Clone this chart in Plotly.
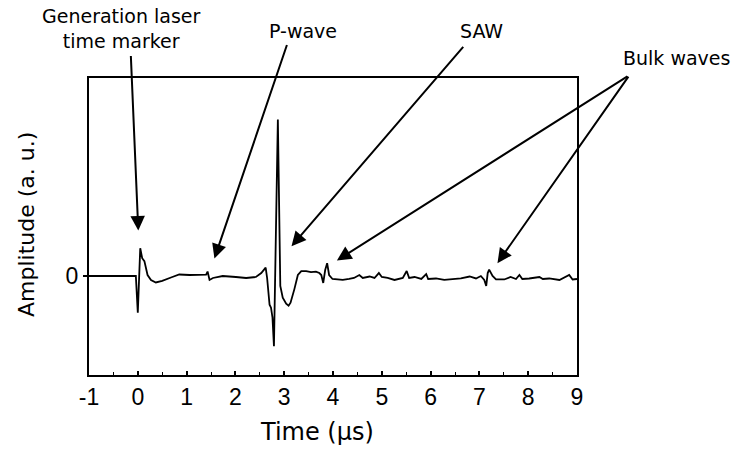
import plotly.graph_objects as go

# Photoacoustic trace: time in microseconds, amplitude in arbitrary units
time_us = [-1.0, -0.6, -0.3, -0.04, 0.0, 0.02, 0.05, 0.09, 0.135, 0.2, 0.27, 0.37, 0.5,
           0.68, 0.85, 1.06, 1.25, 1.4, 1.43, 1.47, 1.54, 1.74, 2.01, 2.22, 2.42, 2.53,
           2.62, 2.65, 2.70, 2.73, 2.76, 2.79, 2.87, 2.90, 2.92, 2.97, 3.04, 3.09, 3.13,
           3.21, 3.28, 3.35, 3.45, 3.55, 3.65, 3.72, 3.76, 3.80, 3.84, 3.88, 3.92, 3.99,
           4.13, 4.2, 4.33, 4.43, 4.54, 4.61, 4.75, 4.85, 4.94, 5.0, 5.12, 5.26, 5.43,
           5.51, 5.56, 5.67, 5.81, 5.91, 5.95, 6.11, 6.28, 6.45, 6.62, 6.80, 6.93, 7.03,
           7.10, 7.14, 7.17, 7.2, 7.27, 7.34, 7.51, 7.64, 7.75, 7.82, 7.88, 8.02, 8.23,
           8.3, 8.43, 8.64, 8.78, 8.84, 8.91, 9.0]
amplitude = [0.0, 0.0, 0.0, 0.0, -0.37, -0.05, 0.28, 0.18, 0.15, 0.01, -0.04, -0.065, -0.05,
             -0.015, 0.015, 0.01, 0.012, 0.013, 0.045, -0.04, -0.02, 0.0, -0.01, -0.02, -0.01, 0.03,
             0.085, -0.02, -0.29, -0.32, -0.42, -0.71, 1.58, 0.5, -0.1, -0.22, -0.28, -0.30, -0.27,
             -0.13, 0.01, 0.05, 0.05, 0.04, 0.045, 0.03, 0.01, -0.07, 0.06, 0.13, 0.01, -0.03,
             -0.04, -0.04, -0.03, -0.02, 0.01, -0.02, -0.005, -0.02, 0.03, -0.01, -0.02, -0.04, -0.02,
             0.05, -0.02, -0.01, -0.03, 0.02, -0.03, -0.025, -0.04, -0.035, -0.025, -0.005, -0.025, 0.0,
             -0.04, -0.10, 0.03, 0.065, 0.0, -0.035, -0.035, -0.01, -0.03, 0.01, -0.03, -0.025, -0.01,
             -0.03, -0.025, -0.04, -0.01, 0.01, -0.035, -0.03]

x_tickvals = [-1, 0, 1, 2, 3, 4, 5, 6, 7, 8, 9]
x_ticktext = ["-1", "0", "1", "2", "3", "4", "5", "6", "7", "8", "9"]
x_minor_vals = [-0.5, 0.5, 1.5, 2.5, 3.5, 4.5, 5.5, 6.5, 7.5, 8.5]
y_tickvals = [0]
y_ticktext = ["0"]

# Callouts: arrow tip in data units, tail offset in pixels
arrow_tip_t = [0.01, 1.57, 3.15, 4.08, 7.37]
arrow_tip_a = [0.46, 0.177, 0.30, 0.157, 0.13]
arrow_tail_dx = [-7.5, 73, 173, 292, 132]
arrow_tail_dy = [-176, -215, -201, -185, -188]

labels = ["Generation laser<br>time marker", "P-wave", "SAW", "Bulk waves"]
label_px = [121, 302.5, 481, 676.7]
label_py = [28.5, 31, 31, 58]

W, H = 737, 449
L, R, T, B = 89, 160, 78, 74
PW, PH = W - L - R, H - T - B


def paper_x(px):
    return (px - L) / PW


def paper_y(py):
    return (H - B - py) / PH


TEXT_FONT = "DejaVu Sans"
TICK_FONT = "Liberation Sans, Arial"

fig = go.Figure()
fig.add_trace(go.Scatter(
    x=time_us, y=amplitude, mode="lines",
    line=dict(color="black", width=1.8),
    showlegend=False, hoverinfo="skip",
))

annotations = []
for t, a, dx, dy in zip(arrow_tip_t, arrow_tip_a, arrow_tail_dx, arrow_tail_dy):
    annotations.append(dict(
        x=t, y=a, xref="x", yref="y", ax=dx, ay=dy, text="",
        showarrow=True, arrowhead=2, arrowsize=1.45, arrowwidth=2,
        arrowcolor="black", standoff=0, startstandoff=0,
    ))
for txt, px, py in zip(labels, label_px, label_py):
    annotations.append(dict(
        x=paper_x(px), y=paper_y(py), xref="paper", yref="paper",
        text=txt, showarrow=False, xanchor="center", yanchor="middle",
        font=dict(family=TEXT_FONT, size=19, color="black"),
    ))
annotations.append(dict(
    x=paper_x(316.5), y=paper_y(432), xref="paper", yref="paper",
    text="Time (\u00b5s)", showarrow=False, xanchor="center", yanchor="middle",
    font=dict(family=TEXT_FONT, size=24, color="black"),
))
annotations.append(dict(
    x=paper_x(26), y=paper_y(225), xref="paper", yref="paper",
    text="Amplitude (a. u.)", showarrow=False, textangle=-90,
    xanchor="center", yanchor="middle",
    font=dict(family=TEXT_FONT, size=22, color="black"),
))

fig.update_layout(
    width=W, height=H,
    margin=dict(l=L, r=R, t=T, b=B, pad=0),
    paper_bgcolor="white", plot_bgcolor="white",
    annotations=annotations,
    xaxis=dict(
        range=[-1, 9], showgrid=False, zeroline=False,
        showline=True, linecolor="black", linewidth=2, mirror=True,
        tickvals=x_tickvals, ticktext=x_ticktext,
        ticks="inside", ticklen=4, tickwidth=1.5, tickcolor="black",
        minor=dict(tickvals=x_minor_vals, ticks="inside", ticklen=3,
                   tickwidth=1.2, tickcolor="black"),
        tickfont=dict(family=TICK_FONT, size=23, color="black"),
        ticklabelstandoff=0,
    ),
    yaxis=dict(
        range=[-1, 2], showgrid=False, zeroline=False,
        showline=True, linecolor="black", linewidth=2, mirror=True,
        tickvals=y_tickvals, ticktext=y_ticktext,
        ticks="outside", ticklen=4, tickwidth=1.5, tickcolor="black",
        tickfont=dict(family=TICK_FONT, size=23, color="black"),
        ticklabelstandoff=0,
    ),
)

fig.write_html("out.html")
